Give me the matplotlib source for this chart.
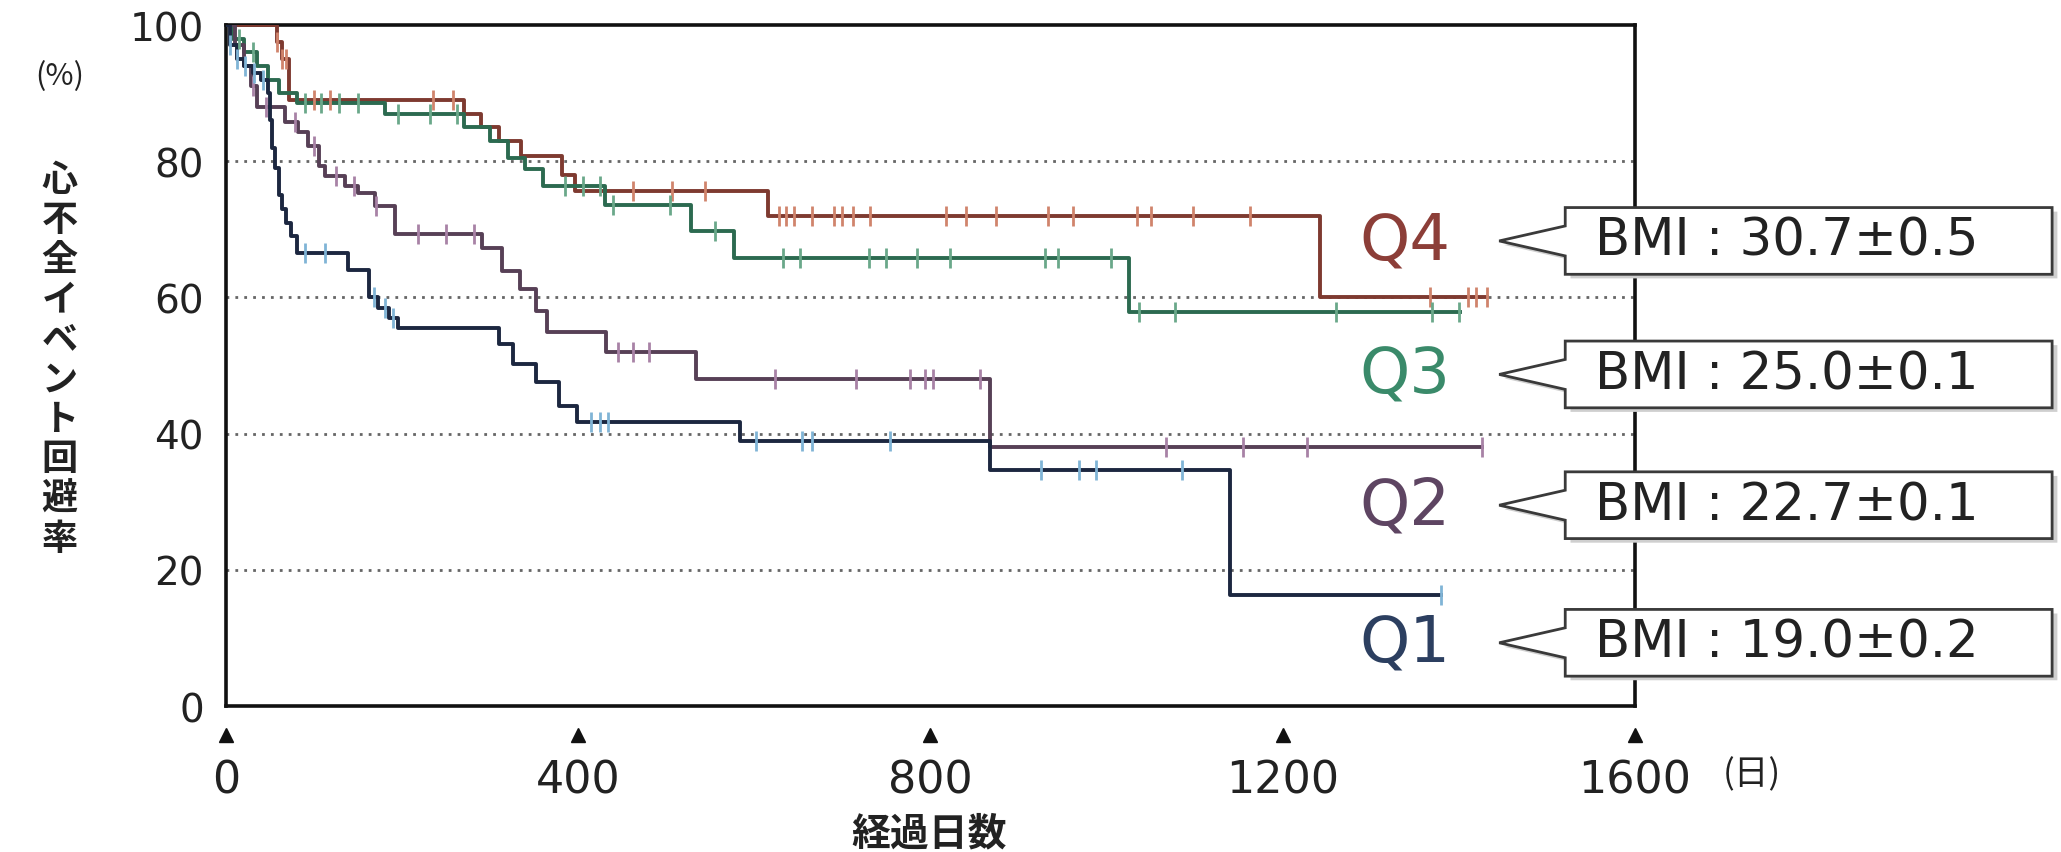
import numpy as np
import matplotlib
matplotlib.use("Agg")
import matplotlib.pyplot as plt
from matplotlib.patches import Polygon

plt.rcParams['font.family'] = ['DejaVu Sans', 'Noto Sans CJK JP']

# Kaplan-Meier curves: step times (days) and survival (%) after each step
q4_t = [0, 58, 64, 72, 270, 290, 310, 335, 381, 396, 615, 1243]
q4_s = [100, 97.5, 95, 89, 87, 85, 83, 80.8, 78, 75.6, 72, 60]
q4_end = 1432
q4_cens = [58, 64, 68, 100, 118, 235, 258, 462, 506, 544, 628, 636, 645, 666, 690,
           700, 712, 731, 818, 840, 874, 934, 962, 1035, 1050, 1098, 1163, 1367,
           1410, 1420, 1432]

q3_t = [0, 8, 20, 35, 48, 60, 80, 180, 270, 300, 320, 340, 360, 430, 528, 577, 1026]
q3_s = [100, 98, 96, 94, 92, 90, 88.5, 87, 85, 83, 80.5, 78.9, 76.4, 73.6, 69.8, 65.8, 57.8]
q3_end = 1402
q3_cens = [15, 30, 90, 108, 128, 150, 195, 232, 262, 385, 405, 425, 440, 504, 555,
           632, 652, 730, 750, 785, 822, 930, 945, 1005, 1037, 1078, 1261, 1370, 1400]

q2_t = [0, 10, 20, 28, 35, 67, 82, 93, 105, 112, 135, 150, 169, 192, 291, 313, 334,
        352, 365, 432, 534, 868]
q2_s = [100, 97, 94, 91, 88, 85.7, 84.3, 82.3, 79.3, 77.8, 76.4, 75.4, 73.5, 69.3,
        67.2, 63.9, 61.2, 58, 54.9, 52, 48, 38]
q2_end = 1426
q2_cens = [30, 45, 78, 100, 125, 145, 170, 218, 250, 282, 445, 462, 480, 623, 716,
           777, 794, 803, 856, 1068, 1155, 1228, 1426]

q1_t = [0, 5, 12, 20, 30, 40, 48, 50, 52, 55, 60, 63, 68, 74, 80, 139, 162, 172, 185,
        195, 310, 326, 352, 378, 398, 584, 868, 1140]
q1_s = [100, 97, 95, 94, 93, 92, 90, 86, 82, 79, 75, 73, 71, 69, 66.5, 64, 60, 58.5,
        57, 55.5, 53.2, 50.2, 47.6, 44.1, 41.7, 39, 34.6, 16.3]
q1_end = 1380
q1_cens = [5, 12, 22, 32, 42, 90, 112, 168, 180, 190, 415, 425, 434, 602, 654, 665,
           754, 926, 969, 988, 1086, 1380]

groups = ["Q4", "Q3", "Q2", "Q1"]
bmi_text = ["BMI : 30.7±0.5", "BMI : 25.0±0.1", "BMI : 22.7±0.1", "BMI : 19.0±0.2"]
label_y = [68.3, 48.7, 29.5, 9.3]

line_colors = ["#7e3a30", "#2c6a50", "#574056", "#1c2740"]
cens_colors = ["#d0846c", "#6aa88a", "#a882a6", "#80b4d6"]
label_colors = ["#8c3e38", "#3a8a6a", "#5e4562", "#2c3f60"]

curves = [(q4_t, q4_s, q4_end, q4_cens), (q3_t, q3_s, q3_end, q3_cens),
          (q2_t, q2_s, q2_end, q2_cens), (q1_t, q1_s, q1_end, q1_cens)]

fig = plt.figure(figsize=(20.61, 8.53), dpi=100)
ax = fig.add_axes([0.1097, 0.171, 0.6835, 0.7985])

for y in [20, 40, 60, 80]:
    ax.axhline(y, color="#666666", lw=2.0, ls=(0, (1, 2.2)), zorder=1)

for i, (t, s, end, cens) in enumerate(curves):
    t = np.array(t + [end])
    s = np.array(s + [s[-1]])
    ax.step(t, s, where="post", color=line_colors[i], lw=2.8, zorder=3)
    c = np.array(cens)
    idx = np.searchsorted(t, c, side="right") - 1
    ax.plot(c, s[idx], ls="none", marker="|", ms=14, mew=2.0,
            color=cens_colors[i], zorder=4)

ax.set_xlim(0, 1600)
ax.set_ylim(0, 100)
ax.set_xticks([0, 400, 800, 1200, 1600])
ax.set_yticks([0, 20, 40, 60, 80, 100])
ax.tick_params(axis="y", length=0, pad=16, labelsize=28, labelcolor="#222222")
ax.tick_params(axis="x", length=0, pad=38, labelsize=32, labelcolor="#222222")
for sp in ax.spines.values():
    sp.set_linewidth(2.6)
    sp.set_color("#111111")

# triangle tick markers under the x axis
ax.plot([0, 400, 800, 1200, 1600], [-0.043] * 5, ls="none", marker="^", ms=10,
        color="#111111", transform=ax.get_xaxis_transform(), clip_on=False)

# group labels with callout boxes
for i, g in enumerate(groups):
    yc = label_y[i]
    ax.text(1390, yc, g, ha="right", va="center", fontsize=46,
            color=label_colors[i], clip_on=False)
    L, R, h, d, tip = 1521, 2074, 4.9, 2.2, 1446
    pts = [(L, yc + h), (R, yc + h), (R, yc - h), (L, yc - h), (L, yc - d),
           (tip, yc), (L, yc + d)]
    shadow = Polygon([(x + 6, y - 0.6) for x, y in pts], closed=True,
                     facecolor="#cfcfcf", edgecolor="none", clip_on=False, zorder=5)
    box = Polygon(pts, closed=True, facecolor="white", edgecolor="#3a3a3a",
                  lw=2.0, clip_on=False, zorder=6)
    ax.add_patch(shadow)
    ax.add_patch(box)
    ax.text(L + 34, yc, bmi_text[i], ha="left", va="center", fontsize=37,
            color="#222222", clip_on=False, zorder=7)

# y label written vertically, one character per line
ylabel = "心不全イベント回避率"
for k, ch in enumerate(ylabel):
    fig.text(0.029, 0.788 - k * 0.0467, ch, ha="center", va="center", fontsize=26,
             fontweight="bold", color="#222222", family="Noto Sans CJK JP")
fig.text(0.029, 0.91, "(%)", ha="center", va="center", fontsize=22, color="#222222",
         family="Noto Sans CJK JP")
fig.text(0.451, 0.022, "経過日数", ha="center", va="center", fontsize=28,
         fontweight="bold", color="#222222", family="Noto Sans CJK JP")
fig.text(0.836, 0.092, "(日)", ha="left", va="center", fontsize=25, color="#222222",
         family="Noto Sans CJK JP")

fig.savefig("out.png", dpi=100)
